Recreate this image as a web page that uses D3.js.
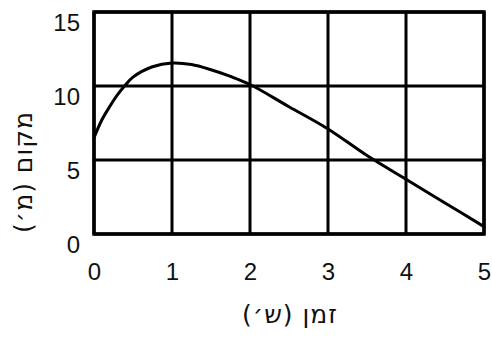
<!DOCTYPE html>
<html lang="he">
<head>
    <meta charset="UTF-8">
    <title>Position vs time</title>
    <style>
        body { margin: 0; background: #fff; }
        svg text { font-family: "Liberation Sans", "DejaVu Sans", sans-serif; fill: #111; }
        svg text.title { font-family: "DejaVu Sans", sans-serif; letter-spacing: 1px; }
    </style>
    <script src="https://d3js.org/d3.v7.min.js"></script>
</head>
<body>
    <div id="chart"></div>
    <script>
        // data
        const times = [0, 0.1, 0.2, 0.3, 0.4, 0.5, 0.75, 1, 1.25, 1.5, 1.75, 2, 2.5, 3, 3.5, 4, 4.5, 5]
        const positions = [6.5, 7.7, 8.6, 9.4, 10.05, 10.6, 11.3, 11.55, 11.45, 11.1, 10.65, 10.1, 8.6, 7.1, 5.3, 3.7, 2.1, 0.5]
        const xTicks = [0, 1, 2, 3, 4, 5]
        const yTicks = [0, 5, 10, 15]
        const xLabel = "זמן (ש׳)"
        const yLabel = "מקום (מ׳)"

        const W = 492, H = 338
        const margin = {top: 12, right: 8, bottom: 104, left: 94}
        const width = W - margin.left - margin.right,
              height = H - margin.top - margin.bottom

        const svg = d3.select("#chart")
            .append("svg")
            .attr("width", W)
            .attr("height", H)

        const g = svg.append("g")
            .attr("transform", `translate(${margin.left},${margin.top})`)

        const x = d3.scaleLinear().domain([0, 5]).range([0, width])
        const y = d3.scaleLinear().domain([0, 15]).range([height, 0])

        //grid lines
        g.append("g")
            .selectAll("line")
            .data(xTicks)
            .join("line")
            .attr("x1", d => x(d)).attr("x2", d => x(d))
            .attr("y1", 0).attr("y2", height)
            .attr("stroke", "#000")
            .attr("stroke-width", 3)

        g.append("g")
            .selectAll("line")
            .data(yTicks)
            .join("line")
            .attr("x1", 0).attr("x2", width)
            .attr("y1", d => y(d)).attr("y2", d => y(d))
            .attr("stroke", "#000")
            .attr("stroke-width", 3)

        //frame
        g.append("rect")
            .attr("width", width)
            .attr("height", height)
            .attr("fill", "none")
            .attr("stroke", "#000")
            .attr("stroke-width", 3.5)

        //axes, only the labels are kept
        const xAxis = g.append("g")
            .attr("transform", `translate(0,${height})`)
            .call(d3.axisBottom(x).tickValues(xTicks).tickFormat(d3.format("d")).tickSize(0))
        xAxis.select(".domain").remove()
        xAxis.selectAll("text")
            .style("font-size", "24px")
            .attr("y", 46)
            .attr("dy", "0")

        const yAxis = g.append("g")
            .call(d3.axisLeft(y).tickValues(yTicks).tickFormat(d3.format("d")).tickSize(0).tickPadding(14))
        yAxis.select(".domain").remove()
        yAxis.selectAll("text")
            .style("font-size", "24px")
            .attr("y", 18)
            .attr("dy", "0")

        //curve
        const data = times.map((t, i) => ({t: t, p: positions[i]}))
        const line = d3.line()
            .x(d => x(d.t))
            .y(d => y(d.p))
            .curve(d3.curveCatmullRom.alpha(0.5))

        g.append("path")
            .datum(data)
            .attr("d", line)
            .attr("fill", "none")
            .attr("stroke", "#000")
            .attr("stroke-width", 3)

        //axis titles
        svg.append("text")
            .attr("class", "title")
            .attr("x", 290)
            .attr("y", 323)
            .attr("text-anchor", "middle")
            .style("font-size", "25px")
            .text(xLabel)

        svg.append("text")
            .attr("class", "title")
            .attr("transform", "translate(32,172) rotate(-90)")
            .attr("text-anchor", "middle")
            .style("font-size", "25px")
            .text(yLabel)
    </script>
</body>
</html>
